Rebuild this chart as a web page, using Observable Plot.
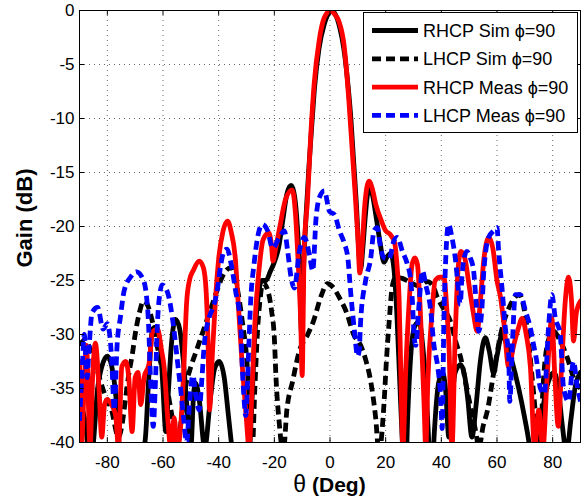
<!DOCTYPE html>
<html>
<head>
<meta charset="utf-8">
<script src="https://cdn.jsdelivr.net/npm/d3@7"></script>
<script src="https://cdn.jsdelivr.net/npm/@observablehq/plot@0.6"></script>
<style>
  html, body { margin: 0; padding: 0; background: #fff; }
  #chart { width: 587px; height: 504px; }
</style>
</head>
<body>
<div id="chart"></div>
<script>
// ---- Tick labels ----
const xTicks = [-80, -60, -40, -20, 0, 20, 40, 60, 80];
const yTicks = [0, -5, -10, -15, -20, -25, -30, -35, -40];

// ---- Series: RHCP Sim phi=90 (black solid) ----
const rhcpSimTheta = [-90,-88,-86,-85,-83.5,-82,-80,-78,-76.5,-75.5,-71,-66.5,-65,-63.8,-62.5,-61,-60,-59,-58,-57,-55.5,-54,-52.5,-51,-50,-49,-48.3,-47,-45,-43,-41.5,-39.8,-38,-36.5,-35,-32,-29,-28,-27,-26,-24.5,-23,-21.5,-20,-18.5,-17,-15.5,-14,-13,-12,-11,-10.2,-9.5,-8.5,-7.5,-6.5,-5.5,-4,-2,0,0.5,2,3.5,5,6.5,7.5,8.5,9.5,10.3,11,11.8,12.7,13.5,14.3,15.2,16.5,18,19.4,20.5,21.8,23,24,25,26,27,28,29,30.5,32,33.3,34.5,35.5,36.5,37.5,39,40.4,41.5,42.7,43.5,45,47,48.5,49.5,51,52.5,54,55.8,57.2,58.8,60,61.8,63.3,65.4,67.8,70,71.5,73,75,77,79,80.5,82,83.5,85,86.5,88,90];
const rhcpSimGain  = [-36,-38,-42,-40,-35,-33,-32,-33.5,-37,-41,-43,-40,-33.5,-29.5,-29.3,-31,-35,-39,-35,-31,-28.6,-29.5,-33,-38,-40.5,-35.5,-34.5,-36,-40.5,-36,-33.2,-32.5,-34,-37.5,-41,-45,-41,-36,-30,-27,-25,-25,-24.2,-23.3,-22,-19.5,-17,-16.2,-16.8,-19,-23.5,-30,-24,-18.5,-14.2,-10.5,-7,-3.6,-1.2,-0.1,0,-0.4,-1.6,-3.6,-7,-10,-14,-18,-22,-24,-22,-19,-17,-16.4,-17,-19,-21.5,-23.3,-22.8,-22.5,-24,-28,-34,-40,-44,-37,-32,-29.2,-28.8,-31,-35,-40,-44,-39,-34.5,-33.5,-35,-39.5,-37,-33.5,-32.8,-34,-36,-39.5,-36.5,-32.5,-30.3,-31.5,-33.6,-32,-30,-30.8,-32.5,-35,-37.8,-40,-43,-40,-36,-34,-33.5,-35,-38.5,-41,-38,-35,-33.5];

// ---- Series: LHCP Sim phi=90 (black dashed) ----
const lhcpSimTheta = [-90,-88,-86,-84,-81,-78.5,-76,-74.5,-73.5,-72.3,-71,-70,-68.5,-67,-65.5,-64,-62,-60,-58.4,-56.5,-55,-53.5,-52,-50,-48,-46,-44,-42,-40,-38,-35.5,-33.5,-31.5,-29.7,-28.5,-28,-27,-26,-25,-24.2,-22.5,-21,-20,-19.4,-18.2,-16.8,-15.5,-13.4,-11,-8,-6,-3,-1,1,3.4,6,8.5,11,13,14.6,16.4,17.6,19.4,20.3,21.2,22.4,23.6,26,29,32,35,37,38.6,41,43.3,45,46.9,49.3,52.3,53.5,55,56.5,58.9,61.3,64.9,68,70,71.5,73,74.5,75.5,76.5,78.5,80.4,82.5,85.2,87.5,90];
const lhcpSimGain  = [-31,-30.5,-31.5,-33,-35.5,-37,-39.5,-38,-36,-33.7,-31.8,-30,-28,-26.9,-27.3,-28.6,-31.2,-33.5,-35.2,-38,-40.5,-38,-35,-33,-31.5,-30,-28.5,-27,-25.5,-24.3,-23.8,-25.5,-28.8,-33,-39,-41,-35,-29.5,-26.5,-25.2,-25.8,-27.8,-30.3,-34,-38.3,-41,-37,-34.3,-31.5,-30,-28.8,-26.3,-25.3,-25.6,-26.6,-28,-30,-31,-32.5,-34.3,-37.7,-41,-36.4,-32.3,-29,-25.5,-24.7,-24.8,-25.2,-25.5,-25.1,-25.5,-26.6,-27.7,-28.8,-30.5,-32.1,-35.2,-38.9,-40.5,-38.5,-37.1,-33.4,-30,-27.2,-26.3,-28,-31,-35,-39,-40.5,-35,-30.5,-29.7,-30.5,-32.1,-34,-35];

// ---- Series: RHCP Meas phi=90 (red solid) ----
const rhcpMeasTheta = [-90,-89.3,-88.5,-87.5,-86.2,-85.3,-84.3,-83,-82,-81,-80,-78.5,-77,-76,-74.8,-73.4,-72.3,-71.1,-70,-69,-68,-66.8,-65,-63.8,-62,-60.5,-59.6,-58.4,-57.2,-56,-54.8,-53.5,-52.5,-51.5,-50.5,-49,-47,-45.5,-44.5,-43.8,-43.3,-42.3,-41.2,-40,-38.5,-36.8,-35.5,-34,-33,-31.5,-30,-29.1,-28,-27,-25.5,-24,-22,-21,-20.5,-19.5,-18,-16,-13.6,-12.5,-11.5,-10.5,-10,-9.3,-8.1,-6.9,-5.7,-3.9,-2.1,0.2,1.5,3.2,5,6.8,8,9.2,10,10.7,11.5,12.5,14,15.2,16.5,18.5,20,21.5,23.2,24.2,24.8,25.4,26.2,27.2,28.4,29.5,30.5,31.4,32.6,33.8,34.4,35.2,36.5,37.8,39.5,40.9,42,42.8,43.8,45,46,47,48.5,50,51.5,52.9,54,55.3,57.1,58.5,60,61.3,62.5,64.2,66,67.7,69,70.5,72,73.5,75,76.5,78,79.7,80.8,82,83.2,84.5,85.7,86.8,87.5,88.5,90];
const rhcpMeasGain  = [-32.5,-40.5,-36,-31,-40.5,-34,-30.8,-35,-39.5,-36.5,-36,-36.5,-37.5,-40.5,-33,-32.5,-34,-39,-34,-33.5,-36.5,-34,-32.7,-29.8,-29.5,-31.5,-33,-37.4,-40.5,-37.7,-40.5,-38,-33,-27,-25,-24,-23.2,-23.8,-26,-31,-37,-32,-27,-23,-20.5,-19.5,-20.5,-23,-27,-33,-38,-40.5,-35,-29,-24,-21.2,-20.6,-21.8,-23.2,-22,-20,-17.5,-16.6,-18.5,-23,-29,-33.8,-22.3,-17.6,-11.5,-6.8,-2.8,-0.7,0,-0.3,-1,-3.1,-8.4,-13,-17.6,-21,-24.3,-22,-18,-15.8,-16.5,-18,-19.5,-20.4,-20.7,-21.5,-24,-26.5,-33,-40.5,-33.4,-27.2,-23.5,-22.9,-23.5,-28.7,-36.5,-40.5,-34,-28.5,-25,-24.7,-24.7,-27.8,-31.5,-40.5,-30,-24,-22.3,-23,-25.5,-28,-29.7,-27,-23,-21,-22,-25,-26.6,-29,-33,-31,-29.4,-28.5,-30,-33,-40.5,-37,-40.5,-34,-28.5,-34,-38.5,-33,-27,-24.7,-27,-30.6,-28,-26.9];

// ---- Series: LHCP Meas phi=90 (blue dashed) ----
const lhcpMeasTheta = [-90,-89,-88.3,-87.3,-86.5,-85.5,-83.5,-81.5,-80,-78.5,-77.5,-76.5,-75.3,-74,-71.7,-69.5,-67,-66,-65.2,-64.5,-63.5,-62.8,-62,-61,-60.3,-58.5,-56,-54.8,-53.6,-52.5,-51.5,-50.5,-49.3,-48,-47,-46,-45.2,-43.4,-41.7,-40.4,-39.2,-38.1,-37,-35.5,-33.9,-32.1,-31.5,-30.9,-30.3,-29.1,-28.5,-27.3,-25.5,-24.3,-22.4,-20.6,-18.2,-16.4,-15.2,-14,-12.8,-11,-9.2,-7.4,-6.2,-5,-3.8,-2,-0.2,1.6,3.4,5.2,6.4,7.5,8.8,9.9,10.5,11,12.8,14.6,15.8,17,18.2,19.4,21.2,23,24.2,26,27.8,29,29.6,30.2,30.8,32,33.2,34.4,36.2,37.3,38.6,39.8,40.3,40.9,41.5,42.6,43.8,45,46.2,46.8,47.4,48,49.2,50.4,51.6,52.5,53.4,54.6,55.2,57,58.8,60,60.6,61.8,63,64.2,64.6,65.5,66.6,68.4,70.2,72,73.1,74.3,75.5,77,78.5,79.7,80.9,82.7,83.9,85.7,87.5,88.7,90];
const lhcpMeasGain  = [-38,-33,-30,-34,-31,-28,-27.5,-29.5,-29,-32,-37,-31,-28.4,-26,-24.7,-24.2,-25,-26.3,-29,-34,-38.5,-35,-29,-26,-25.4,-26,-29.7,-32.5,-35.2,-38,-40,-36.5,-33.8,-36,-37,-34,-31,-28.4,-27.3,-25.7,-23.5,-22.3,-22.1,-23.5,-26,-29,-33.1,-35.9,-37.5,-30.6,-26.9,-23.5,-20.4,-19.8,-20.4,-22,-21,-20.4,-22.3,-24.7,-25.7,-22.3,-21,-22.6,-24.1,-19.2,-17.3,-16.7,-18.6,-18.9,-20.4,-21.6,-22.9,-26.3,-29.7,-32,-31.5,-28.8,-25,-23,-20.4,-20.1,-22,-22.9,-23,-21.3,-21,-22.3,-23.5,-25,-26.9,-30,-31,-27.2,-24.1,-25.4,-27.8,-30.9,-32.8,-36,-38.7,-29,-23.5,-19.8,-21,-22.9,-26,-27.2,-24.7,-23.2,-22.3,-22.9,-24.1,-27,-29.7,-27.5,-24.4,-21,-20.4,-20.1,-22.3,-25.7,-29.4,-32,-36.2,-31,-26.3,-26.3,-27.8,-29.4,-30.9,-32.5,-34.9,-35.5,-29.4,-26.3,-28.4,-30,-34.9,-36.2,-32.5,-34.6,-36.2];

// ---- Legend labels ----
const seriesNames = ["RHCP Sim \u03D5=90", "LHCP Sim \u03D5=90", "RHCP Meas \u03D5=90", "LHCP Meas \u03D5=90"];
const seriesColors = ["#000000", "#000000", "#ff0000", "#0000ff"];
const seriesDash = [null, "9,5", null, "9,5"];

const toRows = (th, g) => th.map((t, i) => ({theta: t, gain: g[i]}));
const series = [
  toRows(rhcpSimTheta, rhcpSimGain),
  toRows(lhcpSimTheta, lhcpSimGain),
  toRows(rhcpMeasTheta, rhcpMeasGain),
  toRows(lhcpMeasTheta, lhcpMeasGain)
];

const LW = 4.8;
const lineMarks = series.map((rows, i) => Plot.line(rows, {
  x: "theta", y: "gain",
  stroke: seriesColors[i],
  strokeWidth: LW,
  strokeDasharray: seriesDash[i] || undefined,
  strokeLinecap: seriesDash[i] ? "butt" : "round",
  strokeLinejoin: "round",
  curve: "monotone-x",
  clip: true
}));

const FONT = "'Liberation Sans', Arial, Helvetica, sans-serif";

const chart = Plot.plot({
  width: 587,
  height: 504,
  marginLeft: 79,
  marginRight: 7,
  marginTop: 10,
  marginBottom: 62,
  style: {fontFamily: FONT, fontSize: "17px", color: "#000", background: "#fff", overflow: "visible"},
  x: {domain: [-90, 90], ticks: xTicks, tickFormat: d => String(d), tickSize: 0, tickPadding: 13, label: null},
  y: {domain: [-40, 0], ticks: yTicks, tickFormat: d => String(d), tickSize: 0, tickPadding: 5, label: null},
  marks: [
    Plot.ruleX(xTicks, {stroke: "#000", strokeOpacity: 0.6, strokeDasharray: "1,4"}),
    Plot.ruleY(yTicks, {stroke: "#000", strokeOpacity: 0.6, strokeDasharray: "1,4"}),
    ...lineMarks,
    Plot.ruleX(xTicks, {y1: -40, y2: -39.55, stroke: "#000"}),
    Plot.ruleX(xTicks, {y1: 0, y2: -0.45, stroke: "#000"}),
    Plot.ruleY(yTicks, {x1: -90, x2: -88.2, stroke: "#000"}),
    Plot.ruleY(yTicks, {x1: 90, x2: 88.2, stroke: "#000"}),
    Plot.frame({stroke: "#000", strokeWidth: 1})
  ]
});

document.getElementById("chart").appendChild(chart);

// ---- Axis titles and legend ----
const svg = d3.select(chart);

svg.append("text")
  .attr("transform", "translate(32,218) rotate(-90)")
  .attr("text-anchor", "middle")
  .attr("font-family", FONT)
  .attr("font-weight", "bold")
  .attr("font-size", 22)
  .attr("fill", "#000")
  .text("Gain (dB)");

const xl = svg.append("text")
  .attr("x", 329.5)
  .attr("y", 492)
  .attr("text-anchor", "middle")
  .attr("font-family", FONT)
  .attr("font-size", 21)
  .attr("fill", "#000");
xl.append("tspan").attr("font-size", 23).text("\u03B8");
xl.append("tspan").attr("font-weight", "bold").text(" (Deg)");

const lg = svg.append("g");
lg.append("rect")
  .attr("x", 363.5).attr("y", 12.5)
  .attr("width", 214).attr("height", 120)
  .attr("fill", "#fff").attr("stroke", "#000").attr("stroke-width", 1);
const rowY = [30.5, 58.8, 87.1, 115.4];
seriesNames.forEach((name, i) => {
  lg.append("line")
    .attr("x1", 372).attr("x2", 418)
    .attr("y1", rowY[i]).attr("y2", rowY[i])
    .attr("stroke", seriesColors[i])
    .attr("stroke-width", LW)
    .attr("stroke-dasharray", seriesDash[i])
    .attr("stroke-linecap", "butt");
  lg.append("text")
    .attr("x", 423).attr("y", rowY[i] + 6.5)
    .attr("text-anchor", "start")
    .attr("font-family", FONT)
    .attr("font-size", 18)
    .attr("fill", "#000")
    .text(name);
});
</script>
</body>
</html>
